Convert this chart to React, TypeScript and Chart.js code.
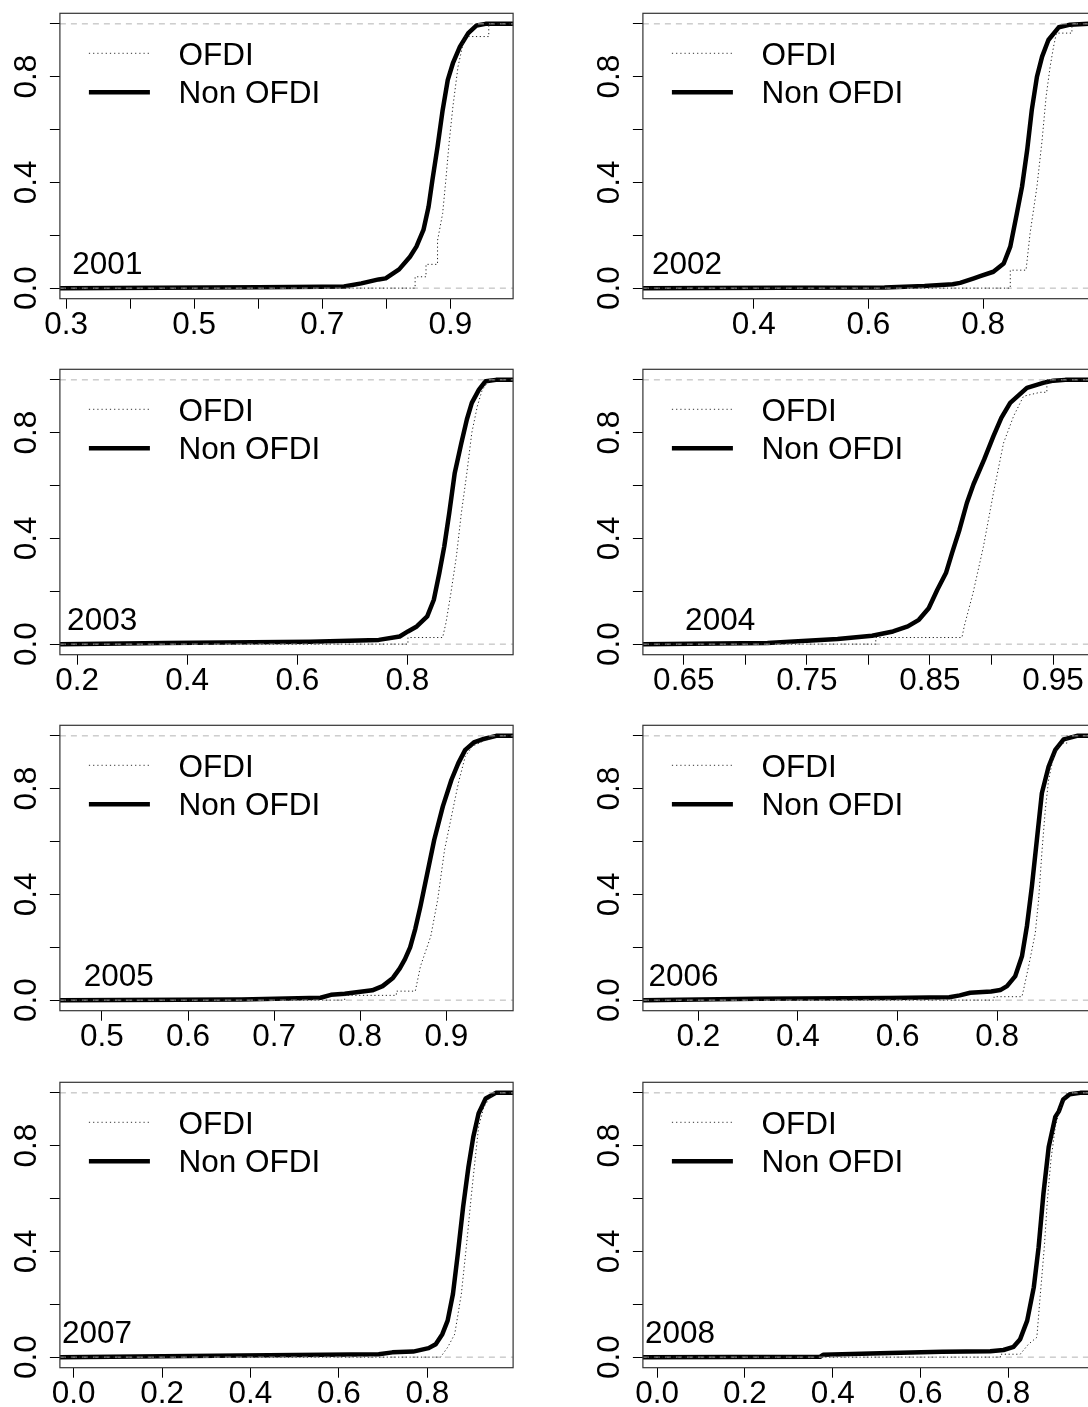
import React, { useEffect, useRef } from "react";
import { Chart, registerables } from "chart.js";

Chart.register(...registerables);

const FONT = "'Liberation Sans', Arial, Helvetica, sans-serif";
const FONT_SIZE = 31.5;

// ---- shared y axis ----
const yTicks = [0, 0.2, 0.4, 0.6, 0.8, 1.0];
const yLabels = ["0.0", "", "0.4", "", "0.8", ""];
const legendLabels = ["OFDI", "Non OFDI"];

// ---- 2001 ----
const x2001Ticks = [0.3, 0.4, 0.5, 0.6, 0.7, 0.8, 0.9];
const x2001Labels = ["0.3", "", "0.5", "", "0.7", "", "0.9"];
const non2001X = [0.2903, 0.45, 0.6, 0.7, 0.734, 0.761, 0.788, 0.799, 0.82, 0.837, 0.847, 0.858, 0.866, 0.872, 0.88, 0.888, 0.896, 0.904, 0.915, 0.928, 0.941, 0.955, 0.998];
const non2001Y = [0, 0.001, 0.003, 0.005, 0.006, 0.018, 0.033, 0.037, 0.071, 0.119, 0.157, 0.22, 0.308, 0.409, 0.535, 0.674, 0.788, 0.851, 0.914, 0.965, 0.994, 1.0, 1.0];
const ofdi2001X = [0.2903, 0.845, 0.845, 0.862, 0.862, 0.88, 0.88, 0.888, 0.893, 0.898, 0.904, 0.912, 0.92, 0.923, 0.96, 0.96, 0.998];
const ofdi2001Y = [0, 0, 0.043, 0.043, 0.09, 0.09, 0.18, 0.283, 0.41, 0.548, 0.687, 0.838, 0.927, 0.952, 0.952, 1.0, 1.0];

// ---- 2002 ----
const x2002Ticks = [0.4, 0.6, 0.8];
const x2002Labels = ["0.4", "0.6", "0.8"];
const non2002X = [0.2066, 0.45, 0.628, 0.698, 0.747, 0.76, 0.784, 0.795, 0.818, 0.836, 0.8475, 0.859, 0.868, 0.877, 0.885, 0.894, 0.903, 0.914, 0.932, 0.952, 0.984, 0.997];
const non2002Y = [0, 0.001, 0.002, 0.008, 0.015, 0.02, 0.037, 0.045, 0.062, 0.093, 0.157, 0.283, 0.384, 0.523, 0.674, 0.8, 0.876, 0.939, 0.987, 0.997, 1.0, 1.0];
const ofdi2002X = [0.2066, 0.8475, 0.8475, 0.875, 0.882, 0.894, 0.903, 0.91, 0.917, 0.923, 0.928, 0.955, 0.955, 0.997];
const ofdi2002Y = [0, 0, 0.068, 0.068, 0.207, 0.384, 0.56, 0.725, 0.838, 0.914, 0.965, 0.965, 1.0, 1.0];

// ---- 2003 ----
const x2003Ticks = [0.2, 0.4, 0.6, 0.8];
const x2003Labels = ["0.2", "0.4", "0.6", "0.8"];
const non2003X = [0.1688, 0.36, 0.623, 0.748, 0.786, 0.801, 0.817, 0.836, 0.848, 0.858, 0.867, 0.876, 0.886, 0.898, 0.908, 0.917, 0.93, 0.942, 0.961, 0.992];
const non2003Y = [0, 0.004, 0.009, 0.016, 0.029, 0.048, 0.067, 0.105, 0.168, 0.269, 0.37, 0.496, 0.648, 0.761, 0.85, 0.913, 0.963, 0.995, 1.0, 1.0];
const ofdi2003X = [0.1688, 0.801, 0.801, 0.864, 0.87, 0.879, 0.889, 0.898, 0.908, 0.917, 0.927, 0.936, 0.948, 0.955, 0.992];
const ofdi2003Y = [0, 0, 0.025, 0.025, 0.08, 0.193, 0.332, 0.496, 0.648, 0.8, 0.9, 0.963, 0.995, 1.0, 1.0];

// ---- 2004 ----
const x2004Ticks = [0.65, 0.7, 0.75, 0.8, 0.85, 0.9, 0.95];
const x2004Labels = ["0.65", "", "0.75", "", "0.85", "", "0.95"];
const non2004X = [0.6168, 0.718, 0.775, 0.803, 0.82, 0.832, 0.841, 0.849, 0.856, 0.863, 0.868, 0.874, 0.88, 0.8854, 0.894, 0.9016, 0.908, 0.9152, 0.9288, 0.942, 0.9504, 0.96, 0.985];
const non2004Y = [0, 0.004, 0.019, 0.032, 0.048, 0.067, 0.092, 0.136, 0.206, 0.269, 0.345, 0.433, 0.534, 0.605, 0.698, 0.787, 0.856, 0.913, 0.97, 0.989, 0.997, 1.0, 1.0];
const ofdi2004X = [0.6168, 0.806, 0.806, 0.876, 0.878, 0.885, 0.8935, 0.9016, 0.9098, 0.9179, 0.926, 0.9396, 0.945, 0.945, 0.985];
const ofdi2004Y = [0, 0, 0.025, 0.025, 0.07, 0.193, 0.37, 0.572, 0.761, 0.862, 0.938, 0.953, 0.953, 1.0, 1.0];

// ---- 2005 ----
const x2005Ticks = [0.5, 0.6, 0.7, 0.8, 0.9];
const x2005Labels = ["0.5", "0.6", "0.7", "0.8", "0.9"];
const non2005X = [0.4512, 0.662, 0.754, 0.766, 0.782, 0.814, 0.826, 0.838, 0.846, 0.852, 0.858, 0.864, 0.87, 0.878, 0.886, 0.896, 0.906, 0.914, 0.922, 0.932, 0.942, 0.958, 0.978];
const non2005Y = [0, 0.002, 0.009, 0.02, 0.024, 0.037, 0.053, 0.084, 0.12, 0.155, 0.2, 0.27, 0.355, 0.481, 0.607, 0.733, 0.834, 0.897, 0.947, 0.975, 0.987, 1.0, 1.0];
const ofdi2005X = [0.4512, 0.782, 0.782, 0.842, 0.842, 0.864, 0.87, 0.882, 0.89, 0.898, 0.906, 0.914, 0.922, 0.93, 0.942, 0.958, 0.978];
const ofdi2005Y = [0, 0, 0.018, 0.018, 0.034, 0.034, 0.128, 0.242, 0.38, 0.569, 0.695, 0.821, 0.922, 0.96, 0.979, 1.0, 1.0];

// ---- 2006 ----
const x2006Ticks = [0.2, 0.4, 0.6, 0.8];
const x2006Labels = ["0.2", "0.4", "0.6", "0.8"];
const non2006X = [0.0884, 0.317, 0.584, 0.704, 0.725, 0.746, 0.788, 0.8064, 0.82, 0.8366, 0.85, 0.86, 0.87, 0.88, 0.89, 0.9036, 0.917, 0.9337, 0.9606, 0.999];
const non2006Y = [0, 0.005, 0.008, 0.011, 0.018, 0.028, 0.033, 0.038, 0.053, 0.091, 0.166, 0.28, 0.431, 0.607, 0.783, 0.884, 0.947, 0.987, 1.0, 1.0];
const ofdi2006X = [0.0884, 0.794, 0.794, 0.85, 0.8533, 0.8634, 0.8768, 0.8835, 0.89, 0.8969, 0.9036, 0.9136, 0.927, 0.94, 0.94, 0.999];
const ofdi2006Y = [0, 0, 0.013, 0.013, 0.04, 0.128, 0.254, 0.38, 0.557, 0.72, 0.834, 0.922, 0.972, 0.972, 1.0, 1.0];

// ---- 2007 ----
const x2007Ticks = [0.0, 0.2, 0.4, 0.6, 0.8];
const x2007Labels = ["0.0", "0.2", "0.4", "0.6", "0.8"];
const non2007X = [-0.0312, 0.379, 0.69, 0.721, 0.768, 0.803, 0.819, 0.834, 0.846, 0.858, 0.869, 0.881, 0.893, 0.904, 0.916, 0.932, 0.955, 0.994];
const non2007Y = [0, 0.006, 0.011, 0.018, 0.021, 0.034, 0.049, 0.087, 0.138, 0.239, 0.39, 0.568, 0.719, 0.833, 0.922, 0.979, 1.0, 1.0];
const ofdi2007X = [-0.0312, 0.83, 0.846, 0.862, 0.877, 0.889, 0.9, 0.908, 0.916, 0.928, 0.943, 0.955, 0.994];
const ofdi2007Y = [0, 0, 0.037, 0.087, 0.239, 0.429, 0.618, 0.745, 0.871, 0.947, 0.985, 1.0, 1.0];

// ---- 2008 ----
const x2008Ticks = [0.0, 0.2, 0.4, 0.6, 0.8];
const x2008Labels = ["0.0", "0.2", "0.4", "0.6", "0.8"];
const non2008X = [-0.0326, 0.371, 0.378, 0.53, 0.649, 0.759, 0.789, 0.812, 0.827, 0.843, 0.858, 0.869, 0.88, 0.892, 0.907, 0.915, 0.925, 0.94, 0.964, 1.0];
const non2008Y = [0, 0.001, 0.009, 0.016, 0.02, 0.022, 0.027, 0.039, 0.068, 0.138, 0.264, 0.416, 0.618, 0.795, 0.909, 0.93, 0.975, 0.995, 1.0, 1.0];
const ofdi2008X = [-0.0326, 0.782, 0.782, 0.827, 0.846, 0.865, 0.873, 0.882, 0.889, 0.897, 0.907, 0.919, 0.934, 1.0];
const ofdi2008Y = [0, 0, 0.011, 0.011, 0.049, 0.075, 0.239, 0.416, 0.593, 0.745, 0.871, 0.947, 1.0, 1.0];

type Panel = {
  year: string;
  col: number;
  row: number;
  xMin: number;
  xMax: number;
  xTicks: number[];
  xLabels: string[];
  nonX: number[];
  nonY: number[];
  ofdiX: number[];
  ofdiY: number[];
  labelX: number;
};

const panels: Panel[] = [
  { year: "2001", col: 0, row: 0, xMin: 0.2903, xMax: 0.998, xTicks: x2001Ticks, xLabels: x2001Labels, nonX: non2001X, nonY: non2001Y, ofdiX: ofdi2001X, ofdiY: ofdi2001Y, labelX: 0.3097 },
  { year: "2002", col: 1, row: 0, xMin: 0.2066, xMax: 0.9972, xTicks: x2002Ticks, xLabels: x2002Labels, nonX: non2002X, nonY: non2002Y, ofdiX: ofdi2002X, ofdiY: ofdi2002Y, labelX: 0.2223 },
  { year: "2003", col: 0, row: 1, xMin: 0.1688, xMax: 0.992, xTicks: x2003Ticks, xLabels: x2003Labels, nonX: non2003X, nonY: non2003Y, ofdiX: ofdi2003X, ofdiY: ofdi2003Y, labelX: 0.1819 },
  { year: "2004", col: 1, row: 1, xMin: 0.6168, xMax: 0.985, xTicks: x2004Ticks, xLabels: x2004Labels, nonX: non2004X, nonY: non2004Y, ofdiX: ofdi2004X, ofdiY: ofdi2004Y, labelX: 0.6511 },
  { year: "2005", col: 0, row: 2, xMin: 0.4512, xMax: 0.9776, xTicks: x2005Ticks, xLabels: x2005Labels, nonX: non2005X, nonY: non2005Y, ofdiX: ofdi2005X, ofdiY: ofdi2005Y, labelX: 0.4788 },
  { year: "2006", col: 1, row: 2, xMin: 0.0884, xMax: 0.999, xTicks: x2006Ticks, xLabels: x2006Labels, nonX: non2006X, nonY: non2006Y, ofdiX: ofdi2006X, ofdiY: ofdi2006Y, labelX: 0.0997 },
  { year: "2007", col: 0, row: 3, xMin: -0.0312, xMax: 0.9941, xTicks: x2007Ticks, xLabels: x2007Labels, nonX: non2007X, nonY: non2007Y, ofdiX: ofdi2007X, ofdiY: ofdi2007Y, labelX: -0.0264 },
  { year: "2008", col: 1, row: 3, xMin: -0.0326, xMax: 1.0, xTicks: x2008Ticks, xLabels: x2008Labels, nonX: non2008X, nonY: non2008Y, ofdiX: ofdi2008X, ofdiY: ofdi2008Y, labelX: -0.0278 },
];

const CANVAS_W = 583;
const CANVAS_H = 356;
const AREA_LEFT = 59.9;
const AREA_TOP = 13.3;
const AREA_W = 453.2;
const AREA_H = 285.4;
const ROW_TOPS = [0, 356, 712, 1069];
const COL_LEFTS = [0, 583];

const zip = (xs: number[], ys: number[]) => xs.map((x, i) => ({ x, y: ys[i] }));

function EcdfPanel({ p }: { p: Panel }) {
  const ref = useRef<HTMLCanvasElement | null>(null);

  useEffect(() => {
    const canvas = ref.current;
    if (!canvas) return;

    const decor = {
      id: "rdecor",
      afterDraw(chart: any) {
        const ctx = chart.ctx as CanvasRenderingContext2D;
        const a = chart.chartArea;
        const xs = chart.scales.x;
        const ys = chart.scales.y;
        ctx.save();
        // box
        ctx.strokeStyle = "#333";
        ctx.lineWidth = 1.2;
        ctx.setLineDash([]);
        ctx.strokeRect(a.left, a.top, a.right - a.left, a.bottom - a.top);
        // y tick labels (rotated like R's las = 0)
        ctx.fillStyle = "#000";
        ctx.font = `${FONT_SIZE}px ${FONT}`;
        yTicks.forEach((v, i) => {
          const lab = yLabels[i];
          if (!lab) return;
          ctx.save();
          ctx.translate(a.left - 33, ys.getPixelForValue(v));
          ctx.rotate(-Math.PI / 2);
          ctx.textAlign = "center";
          ctx.textBaseline = "middle";
          ctx.fillText(lab, 0, 0);
          ctx.restore();
        });
        // legend
        const lx1 = a.left + 29;
        const lx2 = a.left + 90;
        const ly1 = a.top + 40;
        const ly2 = a.top + 79;
        ctx.strokeStyle = "#333";
        ctx.lineWidth = 1;
        ctx.setLineDash([1.2, 3]);
        ctx.beginPath();
        ctx.moveTo(lx1, ly1);
        ctx.lineTo(lx2, ly1);
        ctx.stroke();
        ctx.setLineDash([]);
        ctx.strokeStyle = "#000";
        ctx.lineWidth = 4.5;
        ctx.beginPath();
        ctx.moveTo(lx1, ly2);
        ctx.lineTo(lx2, ly2);
        ctx.stroke();
        ctx.textAlign = "left";
        ctx.textBaseline = "middle";
        ctx.fillText(legendLabels[0], a.left + 118.5, a.top + 43);
        ctx.fillText(legendLabels[1], a.left + 118.5, a.top + 81.5);
        // year label
        ctx.textBaseline = "alphabetic";
        ctx.fillText(p.year, xs.getPixelForValue(p.labelX), ys.getPixelForValue(0.055));
        ctx.restore();
      },
    };

    const chart = new Chart(canvas, {
      type: "line",
      data: {
        datasets: [
          {
            label: "OFDI",
            data: zip(p.ofdiX, p.ofdiY),
            borderColor: "#222",
            borderWidth: 1,
            borderDash: [1.2, 2.6],
            pointRadius: 0,
            tension: 0,
            order: 0,
          },
          {
            label: "zero",
            data: [{ x: p.xMin, y: 0 }, { x: p.xMax, y: 0 }],
            borderColor: "#b3b3b3",
            borderWidth: 1,
            borderDash: [6, 5],
            pointRadius: 0,
            order: 1,
          },
          {
            label: "one",
            data: [{ x: p.xMin, y: 1 }, { x: p.xMax, y: 1 }],
            borderColor: "#b3b3b3",
            borderWidth: 1,
            borderDash: [6, 5],
            pointRadius: 0,
            order: 1,
          },
          {
            label: "Non OFDI",
            data: zip(p.nonX, p.nonY),
            borderColor: "#000",
            borderWidth: 4.5,
            pointRadius: 0,
            tension: 0,
            borderJoinStyle: "round",
            borderCapStyle: "round",
            order: 2,
          },
        ],
      },
      options: {
        responsive: false,
        animation: false,
        devicePixelRatio: 1,
        events: [],
        layout: {
          autoPadding: false,
          padding: { left: 0, top: AREA_TOP, right: CANVAS_W - AREA_LEFT - AREA_W, bottom: 0 },
        },
        plugins: { legend: { display: false }, tooltip: { enabled: false } },
        scales: {
          x: {
            type: "linear",
            min: p.xMin,
            max: p.xMax,
            afterBuildTicks: (s: any) => {
              s.ticks = p.xTicks.map((v) => ({ value: v }));
            },
            afterFit: (s: any) => {
              s.height = CANVAS_H - AREA_TOP - AREA_H;
            },
            grid: { drawOnChartArea: false, drawTicks: true, tickLength: 10, color: "#000", lineWidth: 1 },
            border: { display: false },
            ticks: {
              autoSkip: false,
              maxRotation: 0,
              minRotation: 0,
              padding: 0.5,
              color: "#000",
              font: { family: FONT, size: FONT_SIZE, lineHeight: 1 },
              callback: (_v: any, i: number) => p.xLabels[i],
            },
          },
          y: {
            type: "linear",
            min: -0.04,
            max: 1.04,
            afterBuildTicks: (s: any) => {
              s.ticks = yTicks.map((v) => ({ value: v }));
            },
            afterFit: (s: any) => {
              s.width = AREA_LEFT;
            },
            grid: { drawOnChartArea: false, drawTicks: true, tickLength: 10, color: "#000", lineWidth: 1 },
            border: { display: false },
            ticks: { display: false },
          },
        },
      } as any,
      plugins: [decor],
    });

    return () => chart.destroy();
  }, [p]);

  return (
    <canvas
      ref={ref}
      width={CANVAS_W}
      height={CANVAS_H}
      style={{
        position: "absolute",
        left: COL_LEFTS[p.col],
        top: ROW_TOPS[p.row],
        width: CANVAS_W,
        height: CANVAS_H,
      }}
    />
  );
}

export default function App() {
  return (
    <div
      style={{
        position: "absolute",
        left: 0,
        top: 0,
        width: 1088,
        height: 1407,
        overflow: "hidden",
        background: "#fff",
      }}
    >
      {panels.map((p) => (
        <EcdfPanel key={p.year} p={p} />
      ))}
    </div>
  );
}
